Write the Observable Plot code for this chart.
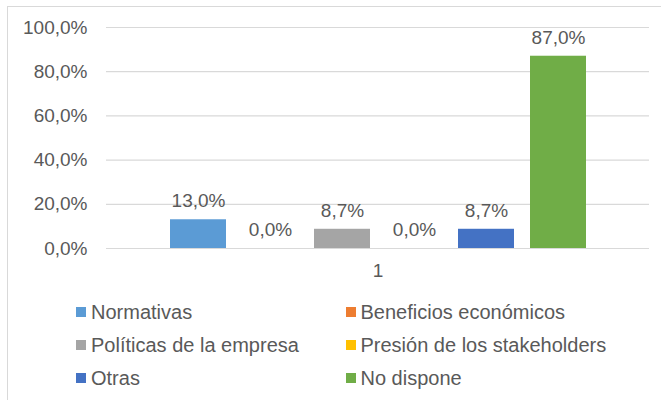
<!DOCTYPE html>
<html>
<head>
<meta charset="utf-8">
<script src="https://cdn.jsdelivr.net/npm/d3@7"></script>
<script src="https://cdn.jsdelivr.net/npm/@observablehq/plot@0.6"></script>
<style>
  html, body { margin: 0; padding: 0; background: #fff; }
  #wrap { position: relative; width: 661px; height: 400px; overflow: hidden; font-family: "Liberation Sans", Arial, sans-serif; color: #595959; }
  #border { position: absolute; left: 7px; top: 6px; width: 700px; height: 420px; border-left: 1px solid #d9d9d9; border-top: 1px solid #d9d9d9; }
  #chart { position: absolute; left: 0; top: 0; }
  .leg { position: absolute; font-size: 20px; line-height: 22px; white-space: nowrap; display: flex; align-items: center; }
  .sw { display: inline-block; width: 10px; height: 10px; margin-right: 5px; }
</style>
</head>
<body>
<div id="wrap">
  <div id="border"></div>
  <div id="chart"></div>
  <div id="legend"></div>
</div>
<script>
const category = "1";
const series = ["Normativas", "Beneficios económicos", "Políticas de la empresa", "Presión de los stakeholders", "Otras", "No dispone"];
const values = [13.0, 0.0, 8.7, 0.0, 8.7, 87.0];
const colors = ["#5b9bd5", "#ed7d31", "#a5a5a5", "#ffc000", "#4472c4", "#70ad47"];
const yTicks = [0, 20, 40, 60, 80, 100];

const data = series.map((s, i) => ({cat: category, series: s, value: values[i]}));
const fmt = d => d.toFixed(1).replace(".", ",") + "%";

const chart = Plot.plot({
  width: 661,
  height: 290,
  marginLeft: 106,
  marginRight: 12,
  marginTop: 27,
  marginBottom: 42,
  style: {fontFamily: "'Liberation Sans', Arial, sans-serif", fontSize: "19px", color: "#595959", background: "transparent"},
  fx: {domain: [category], padding: 0, label: null, axis: null},
  x: {domain: series, paddingInner: 0.225, paddingOuter: 0.868, axis: null},
  y: {domain: [0, 100], label: null},
  color: {domain: series, range: colors},
  marks: [
    Plot.gridY(yTicks, {stroke: "#d9d9d9", strokeOpacity: 1, strokeWidth: 1.2}),
    Plot.axisY(yTicks, {tickSize: 0, tickPadding: 19, tickFormat: fmt, fill: "#595959", fontSize: 19, label: null}),
    Plot.axisFx({anchor: "bottom", tickSize: 0, tickPadding: 15, fill: "#595959", fontSize: 19, label: null}),
    Plot.barY(data, {fx: "cat", x: "series", y: "value", fill: "series"}),
    Plot.text(data, {fx: "cat", x: "series", y: "value", text: d => fmt(d.value), dy: -18.5, lineAnchor: "middle", fill: "#595959", fontSize: 19})
  ]
});
document.getElementById("chart").appendChild(chart);

const legend = document.getElementById("legend");
const colX = [76, 345.5];
const rowY = [311.7, 345, 378];
series.forEach((s, i) => {
  const div = document.createElement("div");
  div.className = "leg";
  div.style.left = colX[i % 2] + "px";
  div.style.top = (rowY[Math.floor(i / 2)] - 11) + "px";
  const sw = document.createElement("span");
  sw.className = "sw";
  sw.style.background = colors[i];
  div.appendChild(sw);
  div.appendChild(document.createTextNode(s));
  legend.appendChild(div);
});
</script>
</body>
</html>
